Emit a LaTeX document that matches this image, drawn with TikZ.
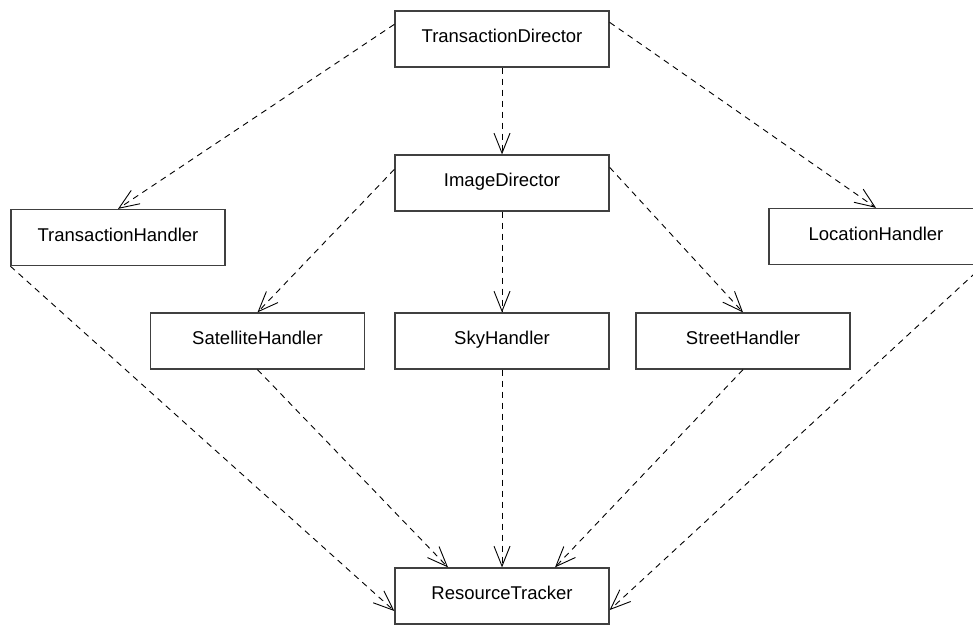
\documentclass[tikz,border=0pt]{standalone}
\usepackage{fontspec}
\setmainfont{Liberation Sans}
\usetikzlibrary{arrows.meta}

\tikzset{
  classbox/.style={draw=black!75, line width=1.3pt, fill=white, inner sep=0pt,
    minimum width=214pt, minimum height=56pt,
    font=\fontsize{18.5}{22}\selectfont, text height=13.3pt, text depth=6.3pt},
  dep/.style={draw=black, line width=0.9pt, dash pattern=on 6pt off 5pt,
    -{Straight Barb[length=20pt, width=16pt, line width=0.9pt]}}
}

\begin{document}
\begin{tikzpicture}[x=1pt, y=-1pt]
  \useasboundingbox (0,0) rectangle (973,625);

  % class boxes
  \node[classbox] (td)  at (502,39)    {TransactionDirector};
  \node[classbox] (id)  at (502,183)   {ImageDirector};
  \node[classbox] (th)  at (118,237.5) {TransactionHandler};
  \node[classbox] (lh)  at (876,236.5) {LocationHandler};
  \node[classbox] (sat) at (257.5,341) {SatelliteHandler};
  \node[classbox] (sky) at (502,341)   {SkyHandler};
  \node[classbox] (str) at (743,341)   {StreetHandler};
  \node[classbox] (rt)  at (502,596)   {ResourceTracker};

  % dependencies
  \draw[dep] ([yshift=-14pt]td.north west) -- (th.north);
  \draw[dep] (td.south) -- (id.north);
  \draw[dep] ([yshift=-12pt]td.north east) -- (lh.north);

  \draw[dep] ([yshift=-15pt]id.north west) -- (sat.north);
  \draw[dep] (id.south) -- (sky.north);
  \draw[dep] ([yshift=-13pt]id.north east) -- (str.north);

  \draw[dep] (th.south west) -- ([yshift=-15pt]rt.west);
  \draw[dep] (sat.south) -- ([xshift=-54pt]rt.north);
  \draw[dep] (sky.south) -- (rt.north);
  \draw[dep] (str.south) -- ([xshift=53pt]rt.north);
  \draw[dep] (lh.south east) -- ([yshift=-14pt]rt.east);
\end{tikzpicture}
\end{document}
